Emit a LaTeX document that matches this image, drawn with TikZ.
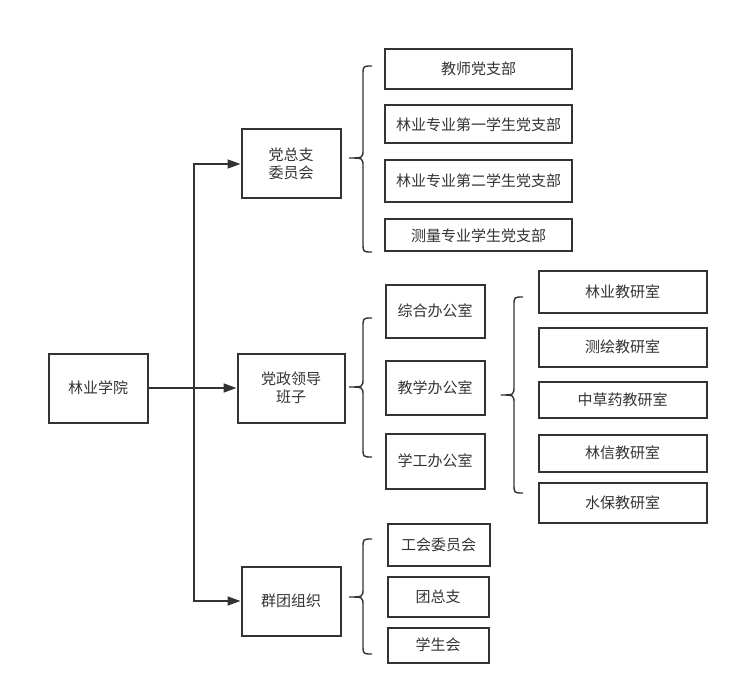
\documentclass[tikz,border=0pt]{standalone}
\usepackage{fontspec}
\setmainfont{Noto Sans CJK SC}
\usetikzlibrary{arrows.meta}
\definecolor{ln}{HTML}{333333}
\definecolor{tx}{HTML}{333333}
\newcommand{\mybrace}[5]{% #1 vertical x, #2 top, #3 tip y, #4 bottom, #5 tip depth
  \draw[brc] (#1+9,#2) .. controls (#1,#2) .. (#1,#2+9) -- (#1,#3-9)
    .. controls (#1,#3) .. (#1-#5,#3) .. controls (#1,#3) .. (#1,#3+9)
    -- (#1,#4-9) .. controls (#1,#4) .. (#1+9,#4);}
\begin{document}
\begin{tikzpicture}[x=1pt,y=-1pt,
  box/.style={draw=ln,line width=2pt,text=tx,inner sep=0pt,align=center,
    font=\fontsize{15}{18}\selectfont},
  arr/.style={draw=ln,line width=1.6pt,-{Triangle[length=13pt,width=9pt]}},
  brc/.style={draw=ln,line width=1.4pt}]
\useasboundingbox (0,0) rectangle (739,695);
% main boxes
\node[box,minimum width=99pt,minimum height=69pt] (root) at (98,388) {林业学院};
\node[box,minimum width=99pt,minimum height=69pt] (b1) at (291,164) {党总支\\委员会};
\node[box,minimum width=107pt,minimum height=69pt] (b2) at (291,388) {党政领导\\班子};
\node[box,minimum width=99pt,minimum height=69pt] (b3) at (291,601) {群团组织};
% group 1
\node[box,minimum width=187pt,minimum height=40pt] (a1) at (478.5,69) {教师党支部};
\node[box,minimum width=187pt,minimum height=38pt] (a2) at (478.5,124.5) {林业专业第一学生党支部};
\node[box,minimum width=187pt,minimum height=42pt] (a3) at (478.5,181) {林业专业第二学生党支部};
\node[box,minimum width=187pt,minimum height=32pt] (a4) at (478.5,235.5) {测量专业学生党支部};
% group 2
\node[box,minimum width=99pt,minimum height=53pt] (c1) at (435,311) {综合办公室};
\node[box,minimum width=99pt,minimum height=54pt] (c2) at (435,388) {教学办公室};
\node[box,minimum width=99pt,minimum height=55pt] (c3) at (435,461) {学工办公室};
% group 3
\node[box,minimum width=168pt,minimum height=42pt] (d1) at (622.5,291.5) {林业教研室};
\node[box,minimum width=168pt,minimum height=39pt] (d2) at (622.5,347) {测绘教研室};
\node[box,minimum width=168pt,minimum height=36pt] (d3) at (622.5,399.5) {中草药教研室};
\node[box,minimum width=168pt,minimum height=37pt] (d4) at (622.5,453) {林信教研室};
\node[box,minimum width=168pt,minimum height=40pt] (d5) at (622.5,502.5) {水保教研室};
% group 4
\node[box,minimum width=102pt,minimum height=42pt] (e1) at (438.5,544.5) {工会委员会};
\node[box,minimum width=101pt,minimum height=40pt] (e2) at (438,596.5) {团总支};
\node[box,minimum width=101pt,minimum height=35pt] (e3) at (438,645) {学生会};
% connectors
\coordinate (J) at (194,388);
\draw[arr] (root.east) -- (b2.west);
\draw[arr] (J) |- (b1.west);
\draw[arr] (J) |- (b3.west);
% braces
\mybrace{363}{66}{158}{252}{14}
\mybrace{363}{318}{387}{457}{14}
\mybrace{514}{297}{395}{493}{13.5}
\mybrace{363}{539}{597}{654}{14}
\end{tikzpicture}
\end{document}
